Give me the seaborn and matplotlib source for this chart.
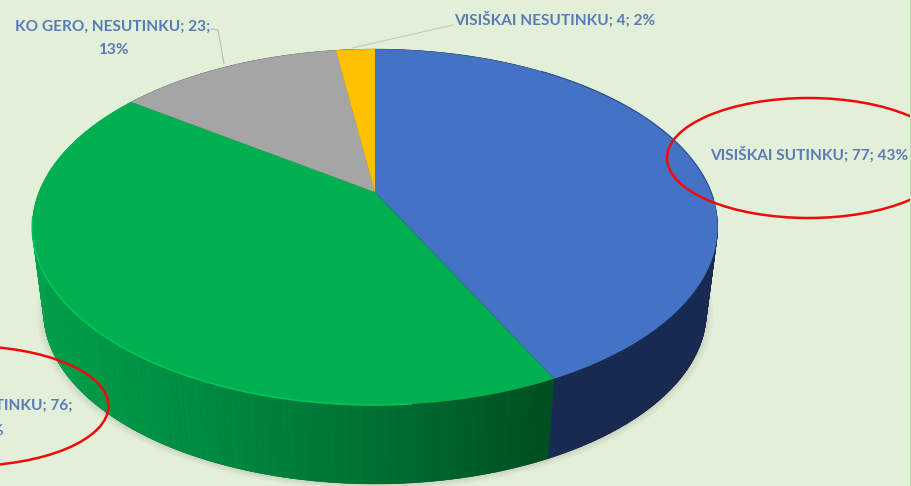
import numpy as np
import matplotlib
matplotlib.use("Agg")
import matplotlib.pyplot as plt
import matplotlib.transforms as mtransforms
from matplotlib.patches import Ellipse
import seaborn as sns

categories = ["VISIŠKAI SUTINKU", "KO GERO, SUTINKU", "KO GERO, NESUTINKU", "VISIŠKAI NESUTINKU"]
values = [77, 76, 23, 4]
top_colors = ["#4472C4", "#00B050", "#A5A5A5", "#FFC000"]
wall_ramps = [["#192A50", "#192A50"],
              ["#00A04C", "#008A40", "#006F33", "#004F20"],
              ["#6E6E6E", "#6E6E6E"],
              ["#A67C00", "#A67C00"]]

sns.set_theme(style="white")
plt.rcParams["font.family"] = ["Lato", "DejaVu Sans"]

BG = "#E2EFD9"
TEXT = "#5A7BB6"


class Perspective(mtransforms.Transform):
    # unit disc seen at an angle, the far side comes out smaller
    input_dims = 2
    output_dims = 2

    def __init__(self, cy, scale=1.0):
        super().__init__()
        self.cy = cy
        self.scale = scale

    def transform_non_affine(self, values):
        values = np.asarray(values, dtype=float)
        w = 1 + 0.197 * values[:, 1]
        sx = 375 + 336 * self.scale * values[:, 0] / w
        sy = self.cy - 171 * self.scale * values[:, 1] / w
        return np.column_stack([sx, sy])


top = Perspective(192)
bottom = Perspective(278, 0.967)
shadow = Perspective(279, 0.967)

fig = plt.figure(figsize=(9.12, 4.86), dpi=100, facecolor=BG)
ax = fig.add_axes([0, 0, 1, 1])


def draw_pie(vals, colors, trf, radius=1.0):
    wedges, _ = ax.pie(vals, colors=colors, startangle=90, counterclock=False,
                       radius=radius, wedgeprops={"linewidth": 0})
    for w in wedges:
        w.set_transform(trf + ax.transData)
    return wedges


def ring(theta, trf):
    pts = np.column_stack([np.sin(theta), np.cos(theta)])
    return trf.transform_non_affine(pts)


# soft shadow under the disc
for grow in [1.02, 1.014, 1.009, 1.004]:
    draw_pie([1], [(0.45, 0.38, 0.34, 0.04)], shadow, radius=grow)

draw_pie(values, [r[-1] for r in wall_ramps], bottom)

# side wall, thin strips so the shade can run left to right
bounds = np.cumsum([0] + values) / sum(values) * 2 * np.pi
for i, ramp in enumerate(wall_ramps):
    shades = sns.blend_palette(ramp, 80)
    th = np.linspace(bounds[i], bounds[i + 1], 160)
    upper = ring(th, top)
    lower = ring(th, bottom)
    for j in range(len(th) - 1):
        t = np.clip((upper[j, 0] - 40) / (550 - 40), 0, 1)
        c = shades[int(t * 79)]
        ax.fill([upper[j, 0], upper[j + 1, 0], lower[j + 1, 0], lower[j, 0]],
                [upper[j, 1], upper[j + 1, 1], lower[j + 1, 1], lower[j, 1]],
                color=c, linewidth=0.4)

draw_pie(values, top_colors, top)

# highlight on the green rim and dark rim on the blue one
rim = ring(np.radians(np.linspace(175, 262, 120)), top)
ax.plot(rim[:, 0], rim[:, 1], color="#00C45C", lw=1.2, solid_capstyle="round")
rim = ring(np.radians(np.linspace(35, 92, 80)), top)
ax.plot(rim[:, 0], rim[:, 1], color="#2F5597", lw=0.9)

# leader lines
ax.plot([211, 218, 224], [29, 30, 64], color="#BDBDBD", lw=0.8)
ax.plot([453, 352], [25, 48], color="#C4C9BE", lw=0.8)

total = sum(values)
pct = [round(v / total * 100) for v in values]
label_font = {"color": TEXT, "fontsize": 11.1, "fontweight": "bold", "ha": "center", "va": "center"}
ax.text(809, 155, f"{categories[0]}; {values[0]}; {pct[0]}%", **label_font)
ax.text(-15, 406, f"{categories[1]}; {values[1]};", **label_font)
ax.text(-11, 431, f"{pct[1]}%", **label_font)
ax.text(113, 27, f"{categories[2]}; {values[2]};", **label_font)
ax.text(113, 50, f"{pct[2]}%", **label_font)
ax.text(555, 20, f"{categories[3]}; {values[3]}; {pct[3]}%", **label_font)

# red hand drawn rings
for cx, cy in [(808.5, 158), (-33, 406)]:
    ax.add_patch(Ellipse((cx, cy), 283, 120, fill=False, edgecolor="#F00A0A", lw=1.8))

ax.axvspan(910, 912, color="#BFE0B0", lw=0)

ax.set_aspect("auto")
ax.set_xlim(0, 912)
ax.set_ylim(486, 0)
ax.axis("off")

fig.savefig("out.png", dpi=100, facecolor=BG)
